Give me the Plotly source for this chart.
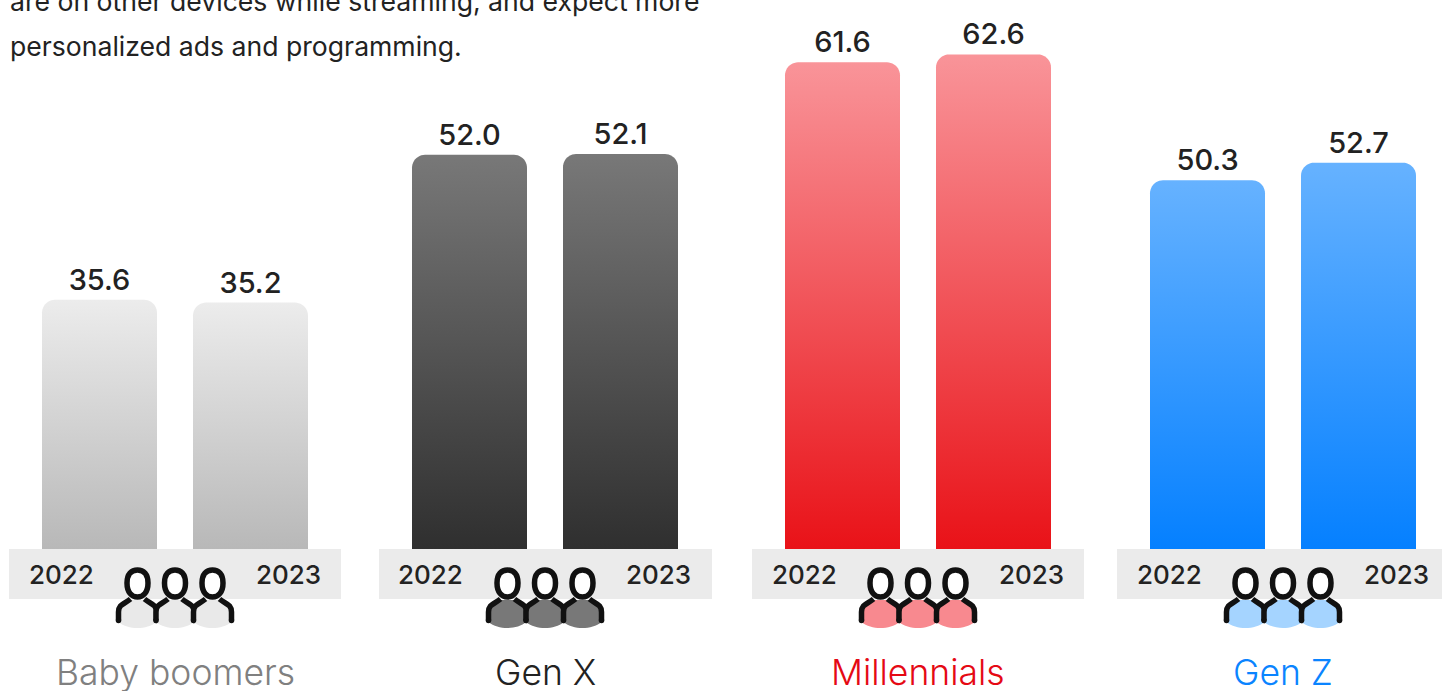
import numpy as np
import plotly.graph_objects as go

W, H = 1442, 691
BASE_Y = 549
FONT = "Inter"

generations = ["Baby boomers", "Gen X", "Millennials", "Gen Z"]
years = [2022, 2023]
values_boomers = [35.6, 35.2]
values_gen_x = [52.0, 52.1]
values_millennials = [61.6, 62.6]
values_gen_z = [50.3, 52.7]
series = [values_boomers, values_gen_x, values_millennials, values_gen_z]

# pixel layout of each panel: band left, band right, centre of the 2022 bar
panel_left = [9, 379, 752, 1117]
panel_right = [341, 712, 1084, 1442]
first_bar_px = [99.5, 469.5, 842.5, 1207.5]
# every panel has its own zero-based scale (pixels per unit)
px_per_unit = [7.0, 7.58, 7.9, 7.33]

bar_spacing = 151
bar_width_px = 115
radius_px = 13

top_colors = ["#ececec", "#787878", "#f99499", "#66b2ff"]
bottom_colors = ["#b8b8b8", "#2f2f2f", "#e91218", "#0580ff"]
title_colors = ["#808080", "#222222", "#e50914", "#0a84ff"]
body_colors = ["#e9e9e9", "#787878", "#f8898f", "#a5d4ff"]
INK = "#111111"
STROKE = 5.5

px = lambda x: x / W
py = lambda y: 1 - y / H

fig = go.Figure()
shapes, annotations = [], []


def rounded_bar(center, value, uy):
    """Outline of a bar with rounded top corners, in axis units."""
    half = bar_width_px / 2 / bar_spacing
    rx = radius_px / bar_spacing
    ry = radius_px / uy
    t = np.linspace(0, np.pi / 2, 12)
    left_x = center - half + rx * (1 - np.cos(t))
    left_y = value - ry * (1 - np.sin(t))
    right_x = center + half - rx * (1 - np.sin(t))
    right_y = value - ry * (1 - np.cos(t))
    xs = [center - half, *left_x, *right_x, center + half, center - half]
    ys = [0, *left_y, *right_y, 0, 0]
    return xs, ys


def to_paper(path):
    """Convert a page-pixel SVG path to paper coordinates."""
    out = []
    for token in path.replace("M", "M ").replace("C", "C ").replace("L", "L ").replace("Z", "Z ").split():
        if "," in token:
            a, b = token.split(",")
            out.append(f"{px(float(a)):.5f},{py(float(b)):.5f}")
        else:
            out.append(token)
    return " ".join(out)


def add_person(cx, color):
    """Head, shoulders and filled torso of one audience figure."""
    body = (f"M{cx-19},622 L{cx-19},612 C{cx-19},604 {cx-13},603 {cx-7},600 "
            f"L{cx+7},600 C{cx+13},603 {cx+19},604 {cx+19},612 L{cx+19},622 "
            f"C{cx+9},630 {cx-9},630 {cx-19},622 Z")
    head = (f"M{cx-10.5},583 C{cx-10.5},574 {cx-6},570 {cx},570 "
            f"C{cx+6},570 {cx+10.5},574 {cx+10.5},583 "
            f"C{cx+10.5},592 {cx+6},597 {cx},597 "
            f"C{cx-6},597 {cx-10.5},592 {cx-10.5},583 Z")
    shoulders = (f"M{cx-19},620.5 L{cx-19},612 C{cx-19},604 {cx-13},604 {cx-7},599 "
                 f"M{cx+19},620.5 L{cx+19},612 C{cx+19},604 {cx+13},604 {cx+7},599")
    shapes.append(dict(type="path", xref="paper", yref="paper", path=to_paper(body),
                       fillcolor=color, line_width=0, layer="above"))
    shapes.append(dict(type="path", xref="paper", yref="paper", path=to_paper(head),
                       fillcolor="#ffffff", line=dict(color=INK, width=STROKE), layer="above"))
    shapes.append(dict(type="path", xref="paper", yref="paper", path=to_paper(shoulders),
                       line=dict(color=INK, width=STROKE), layer="above"))
    for side in (-19, 19):
        r = STROKE / 2
        shapes.append(dict(type="circle", xref="paper", yref="paper", layer="above",
                           x0=px(cx + side - r), x1=px(cx + side + r),
                           y0=py(620.5 + r), y1=py(620.5 - r),
                           fillcolor=INK, line_width=0))


for i, name in enumerate(generations):
    suffix = "" if i == 0 else str(i + 1)
    left, right = panel_left[i], panel_right[i]
    x0 = years[0] + (left - first_bar_px[i]) / bar_spacing
    x1 = years[0] + (right - first_bar_px[i]) / bar_spacing
    fig.update_layout({
        f"xaxis{suffix}": dict(domain=[px(left), px(right)], range=[x0, x1], visible=False, fixedrange=True),
        f"yaxis{suffix}": dict(domain=[py(BASE_Y), 1], range=[0, BASE_Y / px_per_unit[i]],
                               visible=False, fixedrange=True, anchor=f"x{suffix}"),
    })
    xref, yref = f"x{suffix}", f"y{suffix}"

    # band behind the year labels
    shapes.append(dict(type="rect", xref="paper", yref="paper", layer="below",
                       x0=px(left), x1=px(right), y0=py(599), y1=py(BASE_Y),
                       fillcolor="#ebebeb", line_width=0))

    for year, value in zip(years, series[i]):
        xs, ys = rounded_bar(year, value, px_per_unit[i])
        fig.add_trace(go.Scatter(
            x=xs, y=ys, xaxis=xref, yaxis=yref, mode="lines",
            line=dict(width=0, simplify=False), fill="toself",
            fillgradient=dict(type="vertical", start=value, stop=0,
                              colorscale=[[0, top_colors[i]], [1, bottom_colors[i]]]),
            hoverinfo="skip", showlegend=False,
        ))

    fig.add_trace(go.Bar(
        x=years, y=series[i], xaxis=xref, yaxis=yref, width=bar_width_px / bar_spacing,
        marker=dict(color="rgba(0,0,0,0)", line_width=0),
        text=[f"{v:.1f}" for v in series[i]], textposition="outside",
        textfont=dict(family=FONT, size=29, color="#222222", weight=500), cliponaxis=False,
        name=name, showlegend=False,
    ))

    # year labels
    band_center = left + 166
    for year, offset in zip(years, (-114, 113)):
        annotations.append(dict(xref="paper", yref="paper", x=px(band_center + offset), y=py(574.5),
                                text=str(year), showarrow=False, xanchor="center", yanchor="middle",
                                font=dict(family=FONT, size=26, color="#222222", weight=500)))

    # group title
    annotations.append(dict(xref="paper", yref="paper", x=px(band_center), y=py(672),
                            text=name, showarrow=False, xanchor="center", yanchor="middle",
                            font=dict(family=FONT, size=35.5, color=title_colors[i], weight=300)))

    # three-person icon
    for k in (-37.5, 0, 37.5):
        add_person(band_center + k, body_colors[i])

# introductory copy above the chart
for text, y in (("are on other devices while streaming, and expect more", 1.5),
                ("personalized ads and programming.", 46)):
    annotations.append(dict(xref="paper", yref="paper", x=px(7.5), y=py(y), text=text, showarrow=False,
                            xanchor="left", yanchor="middle",
                            font=dict(family=FONT, size=26.6, color="#222222")))

fig.update_layout(
    width=W, height=H, margin=dict(l=0, r=0, t=0, b=0),
    paper_bgcolor="#ffffff", plot_bgcolor="rgba(0,0,0,0)",
    barmode="overlay", shapes=shapes, annotations=annotations,
)
fig.write_html("out.html", config={"displayModeBar": False})
